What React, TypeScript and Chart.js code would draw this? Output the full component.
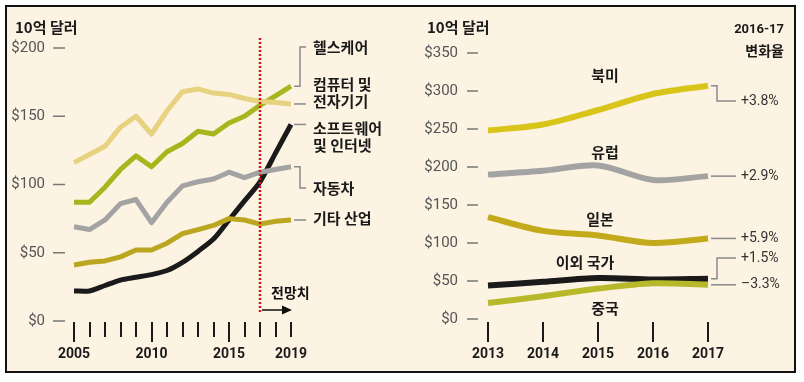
import React, { useEffect, useRef } from "react";
import { Chart, registerables } from "chart.js";
Chart.register(...registerables);

// ---------- Left panel data ----------
const leftYears = [2005, 2006, 2007, 2008, 2009, 2010, 2011, 2012, 2013, 2014, 2015, 2016, 2017, 2018, 2019];
const healthcare = [87, 87, 98, 111, 121, 113, 124, 130, 139, 137, 145, 150, 158, 165, 172];
const computers = [116, 122, 128, 142, 150, 137, 154, 168, 170, 167, 166, 163, 161, 160, 159];
const software = [22, 22, 26, 30, 32, 34, 37, 43, 51, 60, 74, 88, 102, 123, 144];
const autos = [69, 67, 74, 86, 89, 72, 87, 99, 102, 104, 109, 105, 109, 111, 113];
const otherInd = [41, 43, 44, 47, 52, 52, 57, 64, 67, 70, 75, 74, 71, 73, 74];
const leftYTicks = [0, 50, 100, 150, 200];
const leftYearLabels = [2005, 2010, 2015, 2019];
const forecastYear = 2017;

// ---------- Right panel data ----------
const rightYears = [2013, 2014, 2015, 2016, 2017];
const northAmerica = [248, 256, 275, 296, 307];
const europe = [190, 195, 202, 183, 188];
const japan = [134, 116, 110, 100, 106];
const restOfWorld = [44, 49, 54, 52, 53];
const china = [21, 30, 40, 47, 45];
const rightYTicks = [0, 50, 100, 150, 200, 250, 300, 350];
const changes = ["+3.8%", "+2.9%", "+5.9%", "+1.5%", "\u20133.3%"];

const KR = '"Noto Sans CJK KR", "Noto Sans", sans-serif';
const NUM = 'Roboto, "Liberation Sans", sans-serif';

function pts(xs: number[], ys: number[]) {
  return xs.map((x, i) => ({ x, y: ys[i] }));
}

const leftPlugin = {
  id: "leftDecor",
  afterDraw(chart: any) {
    const ctx = chart.ctx as CanvasRenderingContext2D;
    const xs = chart.scales.x;
    const ys = chart.scales.y;
    ctx.save();
    ctx.fillStyle = "#1a1a1a";
    ctx.font = `bold 15px ${KR}`;
    ctx.textBaseline = "middle";
    ctx.textAlign = "left";
    ctx.fillText("10억 달러", 15, 27);
    // y ticks
    ctx.font = `15px ${NUM}`;
    ctx.textAlign = "right";
    for (const v of leftYTicks) {
      const y = ys.getPixelForValue(v);
      ctx.fillStyle = "#555";
      ctx.fillText("$" + v, 45, y);
      ctx.strokeStyle = "#777";
      ctx.lineWidth = 1.5;
      ctx.beginPath();
      ctx.moveTo(53, y);
      ctx.lineTo(65, y);
      ctx.stroke();
    }
    // x ticks
    const y0 = ys.getPixelForValue(0);
    ctx.strokeStyle = "#1a1a1a";
    ctx.lineWidth = 2;
    for (const yr of leftYears) {
      const x = Math.round(xs.getPixelForValue(yr));
      const major = yr % 5 === 0;
      ctx.beginPath();
      ctx.moveTo(x, y0 + 1);
      ctx.lineTo(x, y0 + (major ? 21 : 16));
      ctx.stroke();
    }
    ctx.fillStyle = "#1a1a1a";
    ctx.font = `bold 14px ${NUM}`;
    ctx.textAlign = "center";
    for (const yr of leftYearLabels) {
      ctx.fillText(String(yr), xs.getPixelForValue(yr), 354);
    }
    // forecast line
    const fx = Math.round(xs.getPixelForValue(forecastYear));
    ctx.strokeStyle = "#d3121c";
    ctx.lineWidth = 2.5;
    ctx.setLineDash([2, 2]);
    ctx.beginPath();
    ctx.moveTo(fx, 38);
    ctx.lineTo(fx, 312);
    ctx.stroke();
    ctx.setLineDash([]);
    // arrow
    ctx.strokeStyle = "#111";
    ctx.lineWidth = 1.5;
    ctx.beginPath();
    ctx.moveTo(fx + 2, 310);
    ctx.lineTo(fx + 28, 310);
    ctx.stroke();
    ctx.fillStyle = "#111";
    ctx.beginPath();
    ctx.moveTo(fx + 32, 310);
    ctx.lineTo(fx + 22, 305.5);
    ctx.lineTo(fx + 22, 314.5);
    ctx.closePath();
    ctx.fill();
    ctx.font = `bold 14px ${KR}`;
    ctx.textAlign = "left";
    ctx.fillText("전망치", fx + 11, 293);

    // connectors & labels
    const last = leftYears[leftYears.length - 1];
    const ex = xs.getPixelForValue(last) + 3;
    const ly = (arr: number[]) => ys.getPixelForValue(arr[arr.length - 1]);
    ctx.strokeStyle = "#8a8a8a";
    ctx.lineWidth = 1.5;
    const kx = 300, tx = 306;
    const path = (p: number[][]) => {
      ctx.beginPath();
      ctx.moveTo(p[0][0], p[0][1]);
      for (let i = 1; i < p.length; i++) ctx.lineTo(p[i][0], p[i][1]);
      ctx.stroke();
    };
    path([[ex, ly(healthcare)], [kx, ly(healthcare)], [kx, 47], [tx, 47]]);
    path([[ex, ly(computers)], [tx, ly(computers)]]);
    path([[ex, ly(software)], [tx, ly(software)]]);
    path([[ex, ly(autos)], [kx, ly(autos)], [kx, 188], [tx, 188]]);
    path([[ex, ly(otherInd)], [tx, ly(otherInd)]]);

    ctx.fillStyle = "#1a1a1a";
    ctx.font = `bold 15px ${KR}`;
    ctx.textAlign = "left";
    const lx = 313;
    ctx.fillText("헬스케어", lx, 47);
    ctx.fillText("컴퓨터 및", lx, 84);
    ctx.fillText("전자기기", lx, 101);
    ctx.fillText("소프트웨어", lx, 128);
    ctx.fillText("및 인터넷", lx, 145);
    ctx.fillText("자동차", lx, 188);
    ctx.fillText("기타 산업", lx, 218);
    ctx.restore();
  },
};

const rightPlugin = {
  id: "rightDecor",
  afterDraw(chart: any) {
    const ctx = chart.ctx as CanvasRenderingContext2D;
    const xs = chart.scales.x;
    const ys = chart.scales.y;
    ctx.save();
    ctx.textBaseline = "middle";
    ctx.fillStyle = "#1a1a1a";
    ctx.font = `bold 15px ${KR}`;
    ctx.textAlign = "left";
    ctx.fillText("10억 달러", 7, 27);
    ctx.textAlign = "right";
    ctx.font = `bold 13px ${NUM}`;
    ctx.fillText("2016-17", 364, 30);
    ctx.font = `bold 14px ${KR}`;
    ctx.fillText("변화율", 364, 51);
    // y ticks
    ctx.font = `15px ${NUM}`;
    for (const v of rightYTicks) {
      const y = ys.getPixelForValue(v);
      ctx.fillStyle = "#555";
      ctx.fillText("$" + v, 38, y);
      ctx.strokeStyle = "#777";
      ctx.lineWidth = 1.5;
      ctx.beginPath();
      ctx.moveTo(47, y);
      ctx.lineTo(58, y);
      ctx.stroke();
    }
    // x ticks
    const y0 = ys.getPixelForValue(0);
    ctx.strokeStyle = "#1a1a1a";
    ctx.lineWidth = 2;
    ctx.fillStyle = "#1a1a1a";
    ctx.font = `bold 14px ${NUM}`;
    ctx.textAlign = "center";
    for (const yr of rightYears) {
      const x = Math.round(xs.getPixelForValue(yr));
      ctx.beginPath();
      ctx.moveTo(x, y0 + 3);
      ctx.lineTo(x, y0 + 23);
      ctx.stroke();
      ctx.fillText(String(yr), x, 354);
    }
    // region labels
    ctx.font = `bold 15px ${KR}`;
    ctx.fillText("북미", 185, 75);
    ctx.fillText("유럽", 185, 152);
    ctx.fillText("일본", 180, 219);
    ctx.fillText("이외 국가", 165, 262);
    ctx.fillText("중국", 185, 308);
    // connectors
    const last = rightYears[rightYears.length - 1];
    const ex = xs.getPixelForValue(last) + 3;
    const ly = (arr: number[]) => ys.getPixelForValue(arr[arr.length - 1]);
    ctx.strokeStyle = "#8a8a8a";
    ctx.lineWidth = 1.5;
    const kx = 297, tx = 316;
    const path = (p: number[][]) => {
      ctx.beginPath();
      ctx.moveTo(p[0][0], p[0][1]);
      for (let i = 1; i < p.length; i++) ctx.lineTo(p[i][0], p[i][1]);
      ctx.stroke();
    };
    const tys = [101, ly(europe), ly(japan), 258, ly(china)];
    path([[ex, ly(northAmerica)], [kx, ly(northAmerica)], [kx, tys[0]], [tx, tys[0]]]);
    path([[ex, ly(europe)], [tx, tys[1]]]);
    path([[ex, ly(japan)], [tx, tys[2]]]);
    path([[ex, ly(restOfWorld)], [kx, ly(restOfWorld)], [kx, tys[3]], [tx, tys[3]]]);
    path([[ex, ly(china)], [tx, tys[4]]]);
    ctx.fillStyle = "#333";
    ctx.font = `14px ${NUM}`;
    ctx.textAlign = "left";
    changes.forEach((c, i) => ctx.fillText(c, 321, tys[i]));
    ctx.restore();
  },
};

function ds(data: number[], xs: number[], color: string, width: number, tension = 0) {
  return {
    data: pts(xs, data),
    borderColor: color,
    backgroundColor: color,
    borderWidth: width,
    pointRadius: 0,
    tension,
    clip: false as any,
    borderCapStyle: "butt" as const,
    borderJoinStyle: "round" as const,
  };
}

export default function App() {
  const leftRef = useRef<HTMLCanvasElement>(null);
  const rightRef = useRef<HTMLCanvasElement>(null);

  useEffect(() => {
    const common = (xmin: number, xmax: number, ymax: number) => ({
      responsive: false,
      animation: false as const,
      devicePixelRatio: 1,
      plugins: { legend: { display: false }, tooltip: { enabled: false } },
      scales: {
        x: { type: "linear" as const, min: xmin, max: xmax, display: false },
        y: { type: "linear" as const, min: 0, max: ymax, display: false },
      },
    });
    const left = new Chart(leftRef.current!, {
      type: "line",
      data: {
        datasets: [
          ds(computers, leftYears, "#e6d27f", 5),
          ds(healthcare, leftYears, "#a8b51c", 5),
          ds(autos, leftYears, "#a3a3a3", 5),
          ds(otherInd, leftYears, "#bba61f", 5),
          ds(software, leftYears, "#1a1a1a", 5, 0.25),
        ],
      },
      options: {
        ...common(2005, 2019, 200),
        layout: { padding: { left: 74, right: 129, top: 48, bottom: 61 } },
      },
      plugins: [leftPlugin],
    });
    const right = new Chart(rightRef.current!, {
      type: "line",
      data: {
        datasets: [
          ds(northAmerica, rightYears, "#d9c51a", 6, 0.3),
          ds(europe, rightYears, "#a3a3a3", 6, 0.3),
          ds(japan, rightYears, "#c2aa1b", 6, 0.3),
          ds(china, rightYears, "#b7b92a", 6, 0.3),
          ds(restOfWorld, rightYears, "#1a1a1a", 6, 0.3),
        ],
      },
      options: {
        ...common(2013, 2017, 350),
        layout: { padding: { left: 68, right: 96, top: 53, bottom: 63 } },
      },
      plugins: [rightPlugin],
    });
    return () => {
      left.destroy();
      right.destroy();
    };
  }, []);

  return (
    <div style={{ position: "absolute", left: 0, top: 0, width: 804, height: 382, background: "#fff" }}>
      <div
        style={{
          position: "absolute",
          left: 5,
          top: 5,
          width: 787,
          height: 364,
          border: "2px solid #111",
          background: "#fcf3e3",
        }}
      />
      <canvas ref={leftRef} width={420} height={382} style={{ position: "absolute", left: 0, top: 0, width: 420, height: 382 }} />
      <canvas ref={rightRef} width={384} height={382} style={{ position: "absolute", left: 420, top: 0, width: 384, height: 382 }} />
    </div>
  );
}
